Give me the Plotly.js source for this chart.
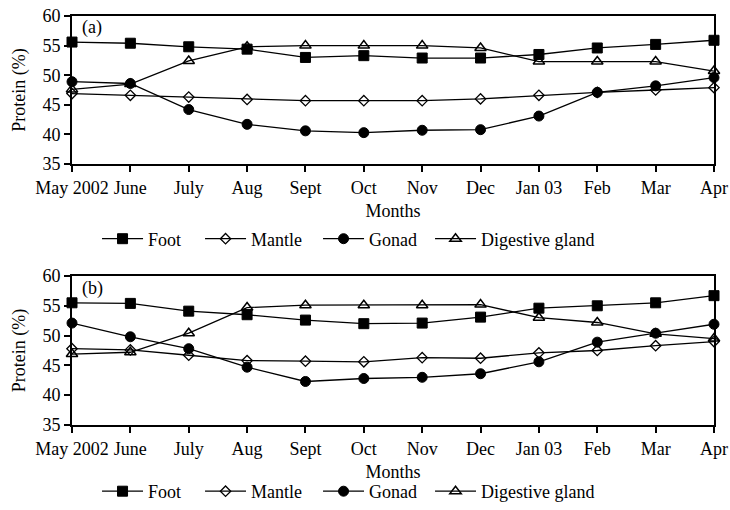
<!DOCTYPE html>
<html>
<head>
<meta charset="utf-8">
<script src="https://cdn.plot.ly/plotly-3.0.1.min.js"></script>
<style>html,body{margin:0;padding:0;background:#fff;}#chart{width:730px;height:510px;}</style>
</head>
<body>
<div id="chart"></div>
<script>
// Data
var months = ["May 2002","June","July","Aug","Sept","Oct","Nov","Dec","Jan 03","Feb","Mar","Apr"];
var seriesNames = ["Foot","Mantle","Gonad","Digestive gland"];

// Panel (a)
var footA    = [55.6,55.4,54.8,54.4,53.0,53.3,52.9,52.9,53.5,54.6,55.2,55.9];
var mantleA  = [46.9,46.6,46.3,45.9,45.7,45.7,45.7,46.0,46.6,47.1,47.5,47.9];
var gonadA   = [48.9,48.6,44.2,41.7,40.6,40.3,40.7,40.8,43.1,47.1,48.2,49.6];
var digestA  = [47.6,48.5,52.4,54.8,55.0,55.0,55.0,54.6,52.3,52.3,52.3,50.7];

// Panel (b)
var footB    = [55.5,55.4,54.1,53.5,52.6,52.0,52.1,53.1,54.6,55.0,55.5,56.7];
var mantleB  = [47.8,47.6,46.7,45.8,45.7,45.6,46.3,46.2,47.1,47.5,48.3,49.0];
var gonadB   = [52.1,49.8,47.8,44.7,42.3,42.8,43.0,43.6,45.6,48.9,50.4,51.9];
var digestB  = [46.9,47.2,50.4,54.7,55.1,55.1,55.1,55.2,53.0,52.2,50.3,49.5];

var FONT = "Liberation Serif";
var FS = 18;
var markers = [
  {symbol:"square", size:10, color:"#000", line:{color:"#000",width:1}},
  {symbol:"diamond-open", size:8, color:"#000", line:{color:"#000",width:1.3}},
  {symbol:"circle", size:10, color:"#000", line:{color:"#000",width:1}},
  {symbol:"triangle-up-open", size:10, color:"#000", line:{color:"#000",width:1.5}}
];
var entryW = [47, 62, 56, 120];

function mk(y, i, xa, ya, lg) {
  return {
    x: months, y: y, name: seriesNames[i], type: "scatter", mode: "lines+markers",
    xaxis: xa, yaxis: ya, legend: lg, cliponaxis: false, legendwidth: entryW[i],
    line: {color:"#000", width:1.3}, marker: markers[i]
  };
}

var data = [
  mk(footA,0,"x","y","legend"), mk(mantleA,1,"x","y","legend"),
  mk(gonadA,2,"x","y","legend"), mk(digestA,3,"x","y","legend"),
  mk(footB,0,"x2","y2","legend2"), mk(mantleB,1,"x2","y2","legend2"),
  mk(gonadB,2,"x2","y2","legend2"), mk(digestB,3,"x2","y2","legend2")
];

function xax(anchor) {
  return {
    anchor: anchor, type: "category", range: [0, 11], automargin: false,
    showline: true, linecolor: "#000", linewidth: 2, mirror: true,
    ticks: "outside", ticklen: 6, tickwidth: 2, tickcolor: "#000",
    showgrid: false, zeroline: false,
    tickfont: {family: FONT, size: FS, color: "#000"},
    title: {text: "Months", font: {family: FONT, size: FS, color: "#000"}, standoff: 8}
  };
}
function yax(anchor, domain) {
  return {
    anchor: anchor, domain: domain, range: [35, 60], dtick: 5, automargin: false,
    showline: true, linecolor: "#000", linewidth: 2, mirror: true,
    ticks: "outside", ticklen: 6, tickwidth: 2, tickcolor: "#000",
    showgrid: false, zeroline: false,
    tickfont: {family: FONT, size: FS, color: "#000"},
    title: {text: "Protein (%)", font: {family: FONT, size: FS, color: "#000"}, standoff: 12}
  };
}

var legendBase = {
  orientation: "h", xanchor: "left", yanchor: "middle",
  font: {family: FONT, size: FS, color: "#000"},
  bgcolor: "rgba(0,0,0,0)", tracegroupgap: 0, itemwidth: 41
};

var layout = {
  width: 730, height: 510,
  margin: {l: 72, r: 16, t: 16, b: 0},
  paper_bgcolor: "#fff", plot_bgcolor: "#fff",
  font: {family: FONT, size: FS, color: "#000"},
  xaxis: xax("y"),
  yaxis: yax("x", [0.7004, 1]),
  xaxis2: xax("y2"),
  yaxis2: yax("x2", [0.1721, 0.4737]),
  showlegend: true,
  legend: Object.assign({}, legendBase, {x: 0.039, y: 0.5486}),
  legend2: Object.assign({}, legendBase, {x: 0.039, y: 0, yanchor: "bottom"}),
  annotations: [
    {text: "(a)", xref: "paper", yref: "paper", x: 0.012, y: 0.976, xanchor: "left", yanchor: "middle", showarrow: false, font: {family: FONT, size: FS, color: "#000"}},
    {text: "(b)", xref: "paper", yref: "paper", x: 0.012, y: 0.449, xanchor: "left", yanchor: "middle", showarrow: false, font: {family: FONT, size: FS, color: "#000"}}
  ]
};

Plotly.newPlot("chart", data, layout, {displayModeBar: false, staticPlot: true});
</script>
</body>
</html>
